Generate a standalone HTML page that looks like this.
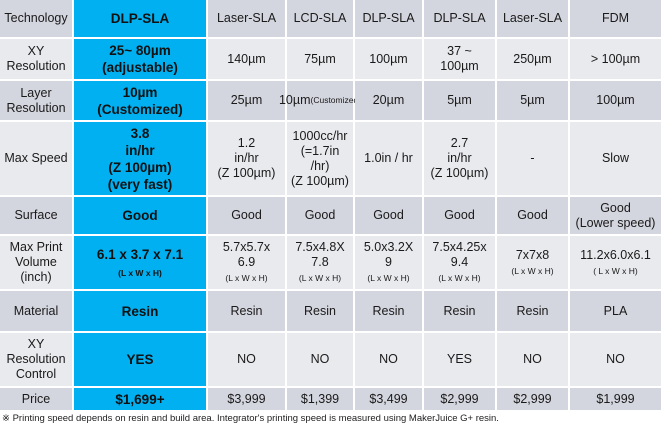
<!DOCTYPE html>
<html><head><meta charset="utf-8"><style>
body{margin:0;width:661px;height:429px;background:#fff;font-family:"Liberation Sans",sans-serif;color:#1a1a1a;overflow:hidden}
.g{display:grid;grid-template-columns:72px 132px 77px 66px 67px 71px 71px 91px;grid-template-rows:37px 40px 39px 73px 37px 53px 40px 53px 22px;gap:2px;background:#fff}
.g>div{display:flex;align-items:center;justify-content:center;text-align:center;font-size:12.5px;line-height:15px}
.d{background:#d4d6df}.l{background:#e9eaee}
.g>div.b{background:#00b0f0;font-weight:bold;font-size:13.5px;line-height:17px;color:#111}
small{font-size:8.5px;line-height:11px}
.note{font-size:9.5px;position:absolute;left:2px;top:413px;color:#222}
</style></head><body>
<div class="g">
<div class="d">Technology</div><div class="b">DLP-SLA</div><div class="d">Laser-SLA</div><div class="d">LCD-SLA</div><div class="d">DLP-SLA</div><div class="d">DLP-SLA</div><div class="d">Laser-SLA</div><div class="d">FDM</div>

<div class="l">XY<br>Resolution</div><div class="b">25~ 80µm<br>(adjustable)</div><div class="l">140µm</div><div class="l">75µm</div><div class="l">100µm</div><div class="l">37 ~<br>100µm</div><div class="l">250µm</div><div class="l">&gt; 100µm</div>

<div class="d">Layer<br>Resolution</div><div class="b">10µm<br>(Customized)</div><div class="d">25µm</div><div class="d">10µm<br><small>(Customized)</small></div><div class="d">20µm</div><div class="d">5µm</div><div class="d">5µm</div><div class="d">100µm</div>

<div class="l">Max Speed</div><div class="b">3.8<br>in/hr<br>(Z 100µm)<br>(very fast)</div><div class="l">1.2<br>in/hr<br>(Z 100µm)</div><div class="l">1000cc/hr<br>(=1.7in<br>/hr)<br>(Z 100µm)</div><div class="l">1.0in / hr</div><div class="l">2.7<br>in/hr<br>(Z 100µm)</div><div class="l">-</div><div class="l">Slow</div>

<div class="d">Surface</div><div class="b">Good</div><div class="d">Good</div><div class="d">Good</div><div class="d">Good</div><div class="d">Good</div><div class="d">Good</div><div class="d">Good<br>(Lower speed)</div>

<div class="l">Max Print<br>Volume<br>(inch)</div><div class="b"><span>6.1 x 3.7 x 7.1<br><small>(L x W x H)</small></span></div><div class="l"><span>5.7x5.7x<br>6.9<br><small>(L x W x H)</small></span></div><div class="l"><span>7.5x4.8X<br>7.8<br><small>(L x W x H)</small></span></div><div class="l"><span>5.0x3.2X<br>9<br><small>(L x W x H)</small></span></div><div class="l"><span>7.5x4.25x<br>9.4<br><small>(L x W x H)</small></span></div><div class="l"><span>7x7x8<br><small>(L x W x H)</small></span></div><div class="l"><span>11.2x6.0x6.1<br><small>( L x W x H)</small></span></div>

<div class="d">Material</div><div class="b">Resin</div><div class="d">Resin</div><div class="d">Resin</div><div class="d">Resin</div><div class="d">Resin</div><div class="d">Resin</div><div class="d">PLA</div>

<div class="l">XY<br>Resolution<br>Control</div><div class="b">YES</div><div class="l">NO</div><div class="l">NO</div><div class="l">NO</div><div class="l">YES</div><div class="l">NO</div><div class="l">NO</div>

<div class="d">Price</div><div class="b">$1,699+</div><div class="d">$3,999</div><div class="d">$1,399</div><div class="d">$3,499</div><div class="d">$2,999</div><div class="d">$2,999</div><div class="d">$1,999</div>
</div>
<div class="note">※ Printing speed depends on resin and build area. Integrator's printing speed is measured using MakerJuice G+ resin.</div>
</body></html>
